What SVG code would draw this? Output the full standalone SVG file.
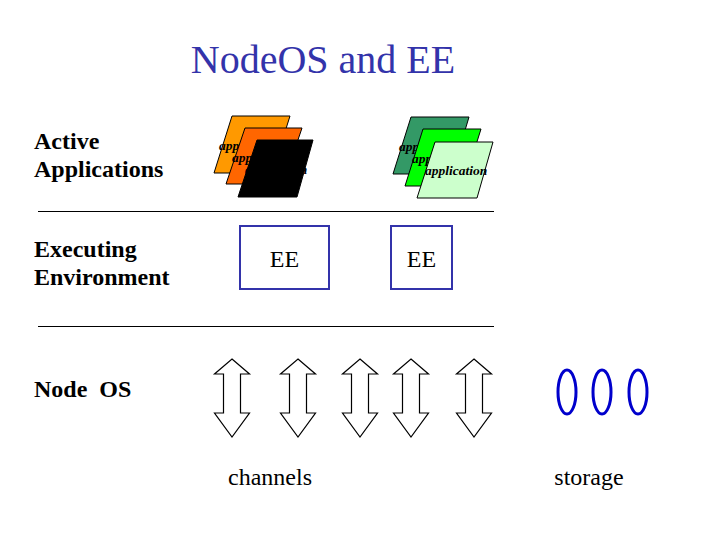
<svg xmlns="http://www.w3.org/2000/svg" width="720" height="540" viewBox="0 0 720 540">
<style>
.lbl{font-family:"Liberation Serif","DejaVu Serif",serif;font-size:24px;font-weight:bold;fill:#000}
.txt{font-family:"Liberation Serif","DejaVu Serif",serif;font-size:24px;fill:#000}
.ttl{font-family:"Liberation Serif","DejaVu Serif",serif;font-size:40px;fill:#3333AA}
.app{font-family:"Liberation Serif","DejaVu Serif",serif;font-size:13.5px;font-weight:bold;font-style:italic;fill:#000}
.pg{stroke:#000;stroke-width:1}
.ee{fill:#fff;stroke:#3333AA;stroke-width:2}
.arr{fill:#fff;stroke:#000;stroke-width:1.2;stroke-linejoin:miter}
.disk{fill:none;stroke:#0000CC;stroke-width:3}
.rule{stroke:#000;stroke-width:1}
</style>
<rect width="720" height="540" fill="#fff"/>
<text class="ttl" x="323" y="73" text-anchor="middle">NodeOS and EE</text>

<g id="labels">
<text class="lbl" x="34" y="149">Active</text>
<text class="lbl" x="34" y="177">Applications</text>
<text class="lbl" x="34" y="257">Executing</text>
<text class="lbl" x="34" y="285">Environment</text>
<text class="lbl" x="34" y="397" xml:space="preserve">Node  OS</text>
</g>

<g id="rules">
<line class="rule" x1="38" y1="211.5" x2="494" y2="211.5"/>
<line class="rule" x1="38" y1="326.5" x2="494" y2="326.5"/>
</g>

<g id="apps-orange">
<polygon class="pg" fill="#FF9900" points="232,116 290,116 272,173 214,173"/>
<text class="app" x="219" y="150">application</text>
<polygon class="pg" fill="#FF6600" points="245,128 302,128 283,184 226,184"/>
<text class="app" x="232" y="162">application</text>
<polygon class="pg" fill="#000" points="257,140 313,140 297,197 238,197"/>
<text class="app" x="245" y="174">application</text>
</g>

<g id="apps-green">
<polygon class="pg" fill="#339966" points="411,117 469,117 452,174 393,174"/>
<text class="app" x="399" y="151">application</text>
<polygon class="pg" fill="#00FF00" points="423,129 481,129 463,186 405,186"/>
<text class="app" x="412" y="163">application</text>
<polygon class="pg" fill="#CCFFCC" points="435,142 493,142 477,198 417,198"/>
<text class="app" x="425" y="175">application</text>
</g>

<g id="ee1">
<rect class="ee" x="240" y="226" width="89" height="63"/>
<text class="txt" x="284.5" y="267" text-anchor="middle">EE</text>
</g>
<g id="ee2">
<rect class="ee" x="391" y="226" width="61" height="63"/>
<text class="txt" x="421.5" y="267" text-anchor="middle">EE</text>
</g>

<defs>
<polygon id="dblarrow" class="arr" points="0,-39 17.5,-24 8.5,-24 8.5,15 17.5,15 0,39 -17.5,15 -8.5,15 -8.5,-24 -17.5,-24"/>
</defs>
<g id="channels">
<use href="#dblarrow" x="232" y="398"/>
<use href="#dblarrow" x="298" y="398"/>
<use href="#dblarrow" x="360" y="398"/>
<use href="#dblarrow" x="411" y="398"/>
<use href="#dblarrow" x="474" y="398"/>
<text class="txt" x="270" y="485" text-anchor="middle">channels</text>
</g>

<g id="storage">
<ellipse class="disk" cx="567" cy="392" rx="9" ry="22"/>
<ellipse class="disk" cx="602" cy="392" rx="9" ry="22"/>
<ellipse class="disk" cx="638" cy="392" rx="9" ry="22"/>
<text class="txt" x="589" y="485" text-anchor="middle">storage</text>
</g>
</svg>
